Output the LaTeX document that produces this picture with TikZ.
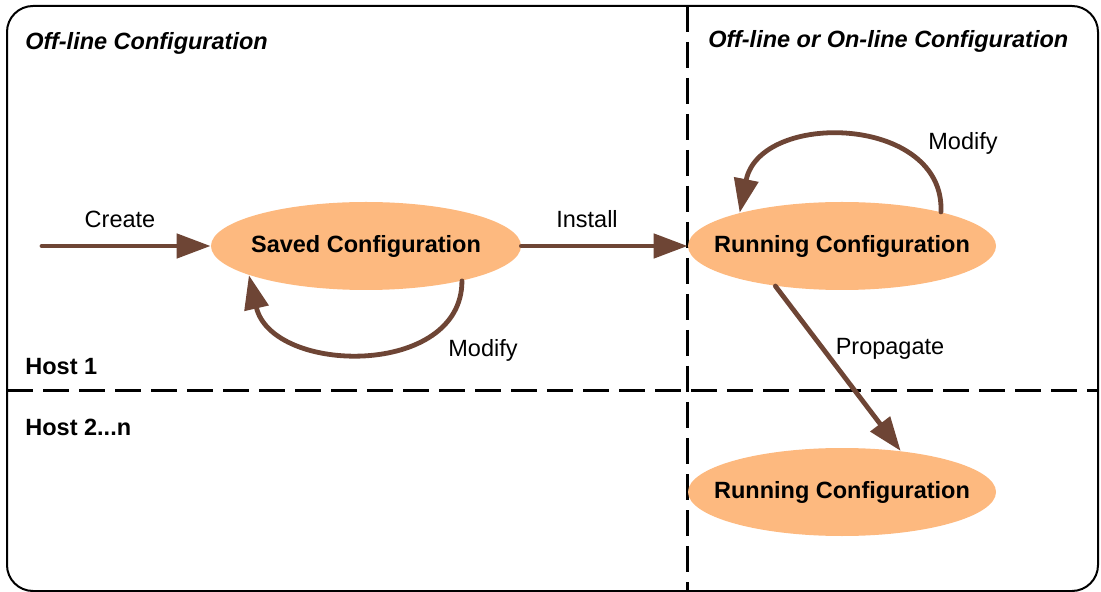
\documentclass[tikz,border=0pt]{standalone}
\usepackage{fontspec}
\setmainfont{Liberation Sans}
\usetikzlibrary{shapes.geometric,arrows.meta}

\definecolor{peach}{HTML}{FDB97F}
\definecolor{brownarr}{HTML}{6E4535}
\newcommand\figfont{\fontsize{11.75}{14}\selectfont}

\tikzset{
  conf/.style={ellipse, fill=peach, inner xsep=-15pt, inner ysep=0pt,
    minimum width=155pt, minimum height=44pt, font=\figfont\bfseries},
  arr/.style={draw=brownarr, line width=2.4pt, line cap=round,
    -{Triangle[length=17pt,width=12pt]}},
  sep/.style={line width=1.5pt, dash pattern=on 13pt off 5pt},
  lbl/.style={inner sep=0pt}
}

\begin{document}
\begin{tikzpicture}[x=0.5pt,y=-0.5pt,font=\figfont]
\useasboundingbox (0,0) rectangle (1101,592);

% frame and separators
\draw[line width=1pt, rounded corners=13pt] (7,6) rectangle (1098,591);
\draw[sep] (687,6) -- (687,591);
\draw[sep] (7,391) -- (1098,391);

\node[lbl, anchor=west, font=\figfont\bfseries\itshape] (offline) at (25,43) {Off-line Configuration};
\node[lbl, anchor=west, font=\figfont\bfseries\itshape] (online) at (708,41) {Off-line or On-line Configuration};
\node[lbl, anchor=west, font=\figfont\bfseries] (host1) at (25,367) {Host 1};
\node[lbl, anchor=west, font=\figfont\bfseries] (hostn) at (25,427) {Host 2...n};

% states
\node[conf] (saved) at (366,246) {Saved Configuration};
\node[conf, minimum width=154pt] (running) at (842,246) {Running Configuration};
\node[conf, minimum width=154pt] (running2) at (842,492) {Running Configuration};

\coordinate (start) at (42,246);

\draw[arr] (start) -- (saved.west);
\draw[arr] (saved.east) -- (running.west);
\draw[arr] (saved.-20) .. controls (462,378) and (272,375) .. (saved.-166);
\draw[arr] (running.19) .. controls (945,115) and (760,110) .. (running.162);
\draw[arr] (running.-149) -- (running2.35);

\node[lbl] (create) at (120,219) {Create};
\node[lbl] (install) at (587,219) {Install};
\node[lbl] (modify1) at (483,350) {Modify};
\node[lbl] (modify2) at (963,143) {Modify};
\node[lbl] (propagate) at (890,349) {Propagate};
\end{tikzpicture}
\end{document}
